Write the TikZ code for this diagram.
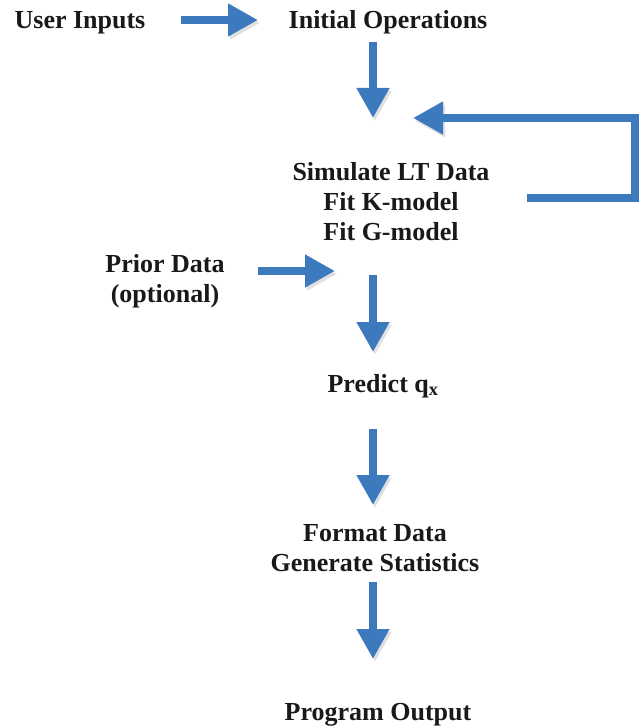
\documentclass[tikz,border=0pt]{standalone}
\usepackage{fontspec}
\setmainfont{Liberation Serif}
\usetikzlibrary{arrows.meta, positioning}
\definecolor{flowblue}{HTML}{3D79BD}

\begin{document}
\begin{tikzpicture}[x=1pt, y=-1pt,
  every node/.style={inner sep=0pt, font=\fontsize{26}{30}\selectfont\bfseries, text=black!90, align=center},
  flowarrow/.style={draw=flowblue, line width=8pt,
    -{Triangle[length=30pt, width=31pt]},
    preaction={draw=black, opacity=0.12, transform canvas={shift={(2pt,-3pt)}}}}]

\useasboundingbox (0,0) rectangle (638,727);

% Text steps
\node[anchor=base] (inputs) at (80,29) {User Inputs};
\node[anchor=base] (initops) at (388,29) {Initial Operations};
\node (simfit) at (391,202) {Simulate LT Data\\Fit K-model\\Fit G-model};
\node (prior) at (165,281) {Prior Data\\(optional)};
\node[anchor=base] (predict) at (383,392) {Predict q\textsubscript{x}};
\node (format) at (375,548) {Format Data\\Generate Statistics};
\node[anchor=base] (output) at (378,720) {Program Output};

% Arrow ends
\coordinate (a1s) at (181,20);  \coordinate (a1e) at (258,20);
\coordinate (a2s) at (373,42);  \coordinate (a2e) at (373,118);
\coordinate (a3s) at (258,271); \coordinate (a3e) at (335,271);
\coordinate (a4s) at (373,275); \coordinate (a4e) at (373,352);
\coordinate (a5s) at (373,429); \coordinate (a5e) at (373,505);
\coordinate (a6s) at (373,582); \coordinate (a6e) at (373,659);

% Loop back
\coordinate (ls) at (527,198);
\coordinate (lr) at (635,198);
\coordinate (lt) at (635,118);
\coordinate (le) at (413,118);

\draw[flowarrow] (a1s) -- (a1e);
\draw[flowarrow] (a2s) -- (a2e);
\draw[flowarrow] (a3s) -- (a3e);
\draw[flowarrow] (a4s) -- (a4e);
\draw[flowarrow] (a5s) -- (a5e);
\draw[flowarrow] (a6s) -- (a6e);
\draw[flowarrow] (ls) -- (lr) -- (lt) -- (le);

\end{tikzpicture}
\end{document}
